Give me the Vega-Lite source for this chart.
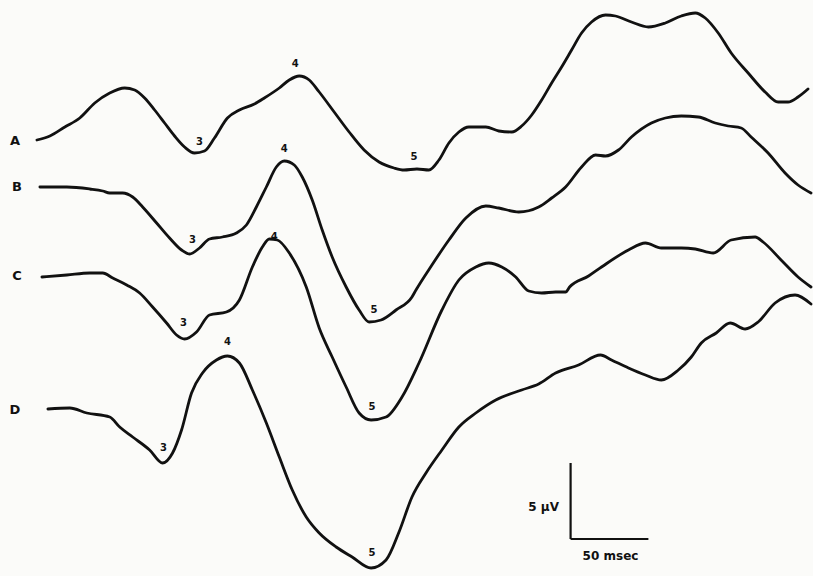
{
  "$schema": "https://vega.github.io/schema/vega-lite/v6.json",
  "width": 813,
  "height": 576,
  "autosize": {"type": "fit", "contains": "padding"},
  "padding": 0,
  "background": "#fbfbf9",
  "config": {"view": {"stroke": null}, "axis": {"disable": true}},
  "datasets": {
    "traces": [
      {"trace":"A","t":37,"v":140},{"trace":"A","t":50,"v":136},{"trace":"A","t":65,"v":127},{"trace":"A","t":80,"v":118},{"trace":"A","t":95,"v":103},{"trace":"A","t":110,"v":93},{"trace":"A","t":125,"v":88},{"trace":"A","t":135,"v":90},{"trace":"A","t":145,"v":98},{"trace":"A","t":155,"v":110},{"trace":"A","t":165,"v":123},{"trace":"A","t":175,"v":136},{"trace":"A","t":185,"v":147},{"trace":"A","t":195,"v":153},{"trace":"A","t":205,"v":151},{"trace":"A","t":215,"v":138},{"trace":"A","t":228,"v":118},{"trace":"A","t":240,"v":110},{"trace":"A","t":255,"v":104},{"trace":"A","t":265,"v":98},{"trace":"A","t":280,"v":88},{"trace":"A","t":290,"v":80},{"trace":"A","t":300,"v":76},{"trace":"A","t":310,"v":80},{"trace":"A","t":320,"v":92},{"trace":"A","t":335,"v":112},{"trace":"A","t":350,"v":132},{"trace":"A","t":365,"v":150},{"trace":"A","t":380,"v":162},{"trace":"A","t":395,"v":168},{"trace":"A","t":405,"v":170},{"trace":"A","t":418,"v":169},{"trace":"A","t":430,"v":170},{"trace":"A","t":440,"v":160},{"trace":"A","t":450,"v":143},{"trace":"A","t":460,"v":132},{"trace":"A","t":470,"v":127},{"trace":"A","t":487,"v":127},{"trace":"A","t":500,"v":131},{"trace":"A","t":513,"v":132},{"trace":"A","t":523,"v":126},{"trace":"A","t":533,"v":115},{"trace":"A","t":543,"v":100},{"trace":"A","t":553,"v":83},{"trace":"A","t":563,"v":67},{"trace":"A","t":573,"v":50},{"trace":"A","t":583,"v":33},{"trace":"A","t":593,"v":22},{"trace":"A","t":607,"v":15},{"trace":"A","t":617,"v":16},{"trace":"A","t":633,"v":22},{"trace":"A","t":650,"v":27},{"trace":"A","t":667,"v":23},{"trace":"A","t":683,"v":16},{"trace":"A","t":697,"v":13},{"trace":"A","t":707,"v":18},{"trace":"A","t":720,"v":33},{"trace":"A","t":733,"v":53},{"trace":"A","t":750,"v":73},{"trace":"A","t":767,"v":92},{"trace":"A","t":780,"v":102},{"trace":"A","t":790,"v":102},{"trace":"A","t":800,"v":97},{"trace":"A","t":810,"v":89},
      {"trace":"B","t":40,"v":187},{"trace":"B","t":67,"v":187},{"trace":"B","t":90,"v":189},{"trace":"B","t":103,"v":191},{"trace":"B","t":110,"v":193},{"trace":"B","t":123,"v":193},{"trace":"B","t":133,"v":197},{"trace":"B","t":143,"v":207},{"trace":"B","t":157,"v":223},{"trace":"B","t":170,"v":238},{"trace":"B","t":182,"v":250},{"trace":"B","t":190,"v":254},{"trace":"B","t":200,"v":248},{"trace":"B","t":210,"v":239},{"trace":"B","t":223,"v":237},{"trace":"B","t":237,"v":233},{"trace":"B","t":247,"v":225},{"trace":"B","t":257,"v":207},{"trace":"B","t":267,"v":187},{"trace":"B","t":277,"v":167},{"trace":"B","t":285,"v":161},{"trace":"B","t":295,"v":165},{"trace":"B","t":303,"v":177},{"trace":"B","t":313,"v":200},{"trace":"B","t":323,"v":230},{"trace":"B","t":333,"v":257},{"trace":"B","t":347,"v":287},{"trace":"B","t":360,"v":310},{"trace":"B","t":370,"v":322},{"trace":"B","t":382,"v":320},{"trace":"B","t":397,"v":310},{"trace":"B","t":413,"v":297},{"trace":"B","t":417,"v":290},{"trace":"B","t":433,"v":265},{"trace":"B","t":450,"v":240},{"trace":"B","t":467,"v":218},{"trace":"B","t":487,"v":206},{"trace":"B","t":500,"v":208},{"trace":"B","t":520,"v":212},{"trace":"B","t":540,"v":207},{"trace":"B","t":553,"v":198},{"trace":"B","t":567,"v":187},{"trace":"B","t":583,"v":167},{"trace":"B","t":597,"v":155},{"trace":"B","t":607,"v":156},{"trace":"B","t":620,"v":150},{"trace":"B","t":633,"v":137},{"trace":"B","t":653,"v":123},{"trace":"B","t":667,"v":118},{"trace":"B","t":683,"v":116},{"trace":"B","t":700,"v":117},{"trace":"B","t":717,"v":123},{"trace":"B","t":730,"v":126},{"trace":"B","t":743,"v":128},{"trace":"B","t":753,"v":137},{"trace":"B","t":770,"v":153},{"trace":"B","t":787,"v":173},{"trace":"B","t":800,"v":185},{"trace":"B","t":813,"v":193},
      {"trace":"C","t":42,"v":277},{"trace":"C","t":67,"v":275},{"trace":"C","t":90,"v":273},{"trace":"C","t":103,"v":273},{"trace":"C","t":113,"v":278},{"trace":"C","t":127,"v":285},{"trace":"C","t":140,"v":293},{"trace":"C","t":153,"v":307},{"trace":"C","t":167,"v":323},{"trace":"C","t":177,"v":335},{"trace":"C","t":185,"v":339},{"trace":"C","t":197,"v":332},{"trace":"C","t":210,"v":315},{"trace":"C","t":227,"v":312},{"trace":"C","t":240,"v":300},{"trace":"C","t":253,"v":267},{"trace":"C","t":263,"v":247},{"trace":"C","t":270,"v":239},{"trace":"C","t":278,"v":240},{"trace":"C","t":290,"v":253},{"trace":"C","t":307,"v":287},{"trace":"C","t":320,"v":328},{"trace":"C","t":333,"v":357},{"trace":"C","t":347,"v":387},{"trace":"C","t":360,"v":413},{"trace":"C","t":372,"v":420},{"trace":"C","t":387,"v":417},{"trace":"C","t":403,"v":397},{"trace":"C","t":420,"v":363},{"trace":"C","t":443,"v":310},{"trace":"C","t":460,"v":280},{"trace":"C","t":477,"v":267},{"trace":"C","t":490,"v":263},{"trace":"C","t":503,"v":267},{"trace":"C","t":517,"v":277},{"trace":"C","t":530,"v":291},{"trace":"C","t":543,"v":293},{"trace":"C","t":557,"v":292},{"trace":"C","t":567,"v":292},{"trace":"C","t":571,"v":287},{"trace":"C","t":590,"v":276},{"trace":"C","t":603,"v":267},{"trace":"C","t":630,"v":250},{"trace":"C","t":647,"v":243},{"trace":"C","t":663,"v":248},{"trace":"C","t":683,"v":248},{"trace":"C","t":697,"v":249},{"trace":"C","t":715,"v":253},{"trace":"C","t":733,"v":240},{"trace":"C","t":757,"v":237},{"trace":"C","t":765,"v":242},{"trace":"C","t":783,"v":260},{"trace":"C","t":800,"v":277},{"trace":"C","t":813,"v":287},
      {"trace":"D","t":48,"v":409},{"trace":"D","t":70,"v":408},{"trace":"D","t":87,"v":413},{"trace":"D","t":110,"v":417},{"trace":"D","t":120,"v":427},{"trace":"D","t":133,"v":437},{"trace":"D","t":150,"v":450},{"trace":"D","t":163,"v":463},{"trace":"D","t":173,"v":453},{"trace":"D","t":182,"v":430},{"trace":"D","t":192,"v":393},{"trace":"D","t":203,"v":373},{"trace":"D","t":217,"v":360},{"trace":"D","t":228,"v":356},{"trace":"D","t":240,"v":363},{"trace":"D","t":253,"v":390},{"trace":"D","t":267,"v":423},{"trace":"D","t":280,"v":457},{"trace":"D","t":293,"v":490},{"trace":"D","t":307,"v":517},{"trace":"D","t":320,"v":533},{"trace":"D","t":337,"v":547},{"trace":"D","t":353,"v":557},{"trace":"D","t":372,"v":568},{"trace":"D","t":387,"v":560},{"trace":"D","t":400,"v":532},{"trace":"D","t":413,"v":497},{"trace":"D","t":427,"v":473},{"trace":"D","t":443,"v":450},{"trace":"D","t":460,"v":427},{"trace":"D","t":477,"v":413},{"trace":"D","t":497,"v":400},{"trace":"D","t":523,"v":390},{"trace":"D","t":540,"v":384},{"trace":"D","t":557,"v":373},{"trace":"D","t":580,"v":365},{"trace":"D","t":602,"v":355},{"trace":"D","t":613,"v":360},{"trace":"D","t":630,"v":368},{"trace":"D","t":647,"v":375},{"trace":"D","t":663,"v":380},{"trace":"D","t":680,"v":370},{"trace":"D","t":693,"v":357},{"trace":"D","t":703,"v":343},{"trace":"D","t":718,"v":333},{"trace":"D","t":732,"v":323},{"trace":"D","t":747,"v":329},{"trace":"D","t":760,"v":322},{"trace":"D","t":777,"v":303},{"trace":"D","t":797,"v":295},{"trace":"D","t":813,"v":304}
    ],
    "labels": [
      {"txt":"A","t":15,"v":141,"size":13},{"txt":"B","t":17,"v":187,"size":13},{"txt":"C","t":17,"v":276,"size":13},{"txt":"D","t":15,"v":410,"size":13},
      {"txt":"3","t":200,"v":142,"size":10},{"txt":"4","t":296,"v":64,"size":10},{"txt":"5","t":415,"v":157,"size":10},
      {"txt":"3","t":193,"v":240,"size":10},{"txt":"4","t":285,"v":149,"size":10},{"txt":"5","t":375,"v":310,"size":10},
      {"txt":"3","t":184,"v":323,"size":10},{"txt":"4","t":275,"v":237,"size":10},{"txt":"5","t":373,"v":407,"size":10},
      {"txt":"3","t":164,"v":448,"size":10},{"txt":"4","t":228,"v":342,"size":10},{"txt":"5","t":373,"v":553,"size":10},
      {"txt":"5 μV","t":545,"v":507,"size":12},{"txt":"50 msec","t":612,"v":556,"size":12}
    ],
    "bar": [
      {"t":572,"v":463,"t2":572,"v2":539},{"t":572,"v":539,"t2":650,"v2":539}
    ]
  },
  "layer": [
    {
      "data": {"name": "traces"},
      "mark": {"type": "line", "interpolate": "monotone", "stroke": "#111", "strokeWidth": 2.8, "strokeJoin": "round", "strokeCap": "round"},
      "encoding": {
        "x": {"field": "t", "type": "quantitative", "scale": {"domain": [0, 813], "nice": false, "zero": false}},
        "y": {"field": "v", "type": "quantitative", "scale": {"domain": [0, 576], "nice": false, "zero": false, "reverse": true}},
        "detail": {"field": "trace"}
      }
    },
    {
      "data": {"name": "bar"},
      "mark": {"type": "rule", "stroke": "#111", "strokeWidth": 2.2},
      "encoding": {
        "x": {"field": "t", "type": "quantitative"},
        "y": {"field": "v", "type": "quantitative"},
        "x2": {"field": "t2"},
        "y2": {"field": "v2"}
      }
    },
    {
      "data": {"name": "labels"},
      "mark": {"type": "text", "font": "DejaVu Sans", "fontWeight": "bold", "fill": "#111", "align": "center", "baseline": "middle"},
      "encoding": {
        "x": {"field": "t", "type": "quantitative"},
        "y": {"field": "v", "type": "quantitative"},
        "text": {"field": "txt"},
        "size": {"field": "size", "type": "quantitative", "scale": null}
      }
    }
  ]
}
